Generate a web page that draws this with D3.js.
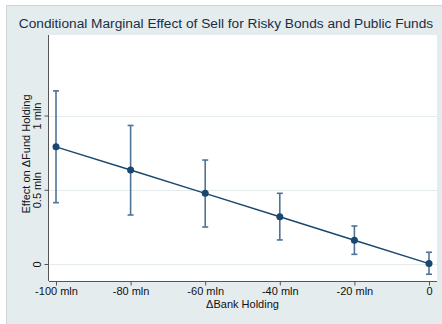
<!DOCTYPE html>
<html>
<head>
<meta charset="utf-8">
<script src="https://cdn.jsdelivr.net/npm/d3@7"></script>
<style>
  body { margin: 0; background: #fff; }
  text { font-family: "Liberation Sans", Arial, sans-serif; }
</style>
</head>
<body>
<div id="chart"></div>
<script>
// values (mln)
var bankHolding = [-100, -80, -60, -40, -20, 0];
var effect      = [0.789, 0.633, 0.476, 0.318, 0.160, 0.003];
var ciLower     = [0.413, 0.330, 0.249, 0.162, 0.065, -0.069];
var ciUpper     = [1.166, 0.933, 0.700, 0.476, 0.256, 0.079];
var xTicks      = [-100, -80, -60, -40, -20, 0];
var xTickLabels = ["-100 mln", "-80 mln", "-60 mln", "-40 mln", "-20 mln", "0"];
var yTicks      = [0, 0.5, 1];
var yTickLabels = ["0", "0.5 mln", "1 mln"];

var width  = 442,
    height = 324;

var plot = { left: 49, right: 437, top: 35, bottom: 281 };

var x = d3.scaleLinear().domain([-100, 0]).range([56, 429]);
var y = d3.scaleLinear().domain([0, 1]).range([264, 115.5]);

var navy = "#1a476f";
var bg   = "#e4ecee";

var svg = d3.select("#chart")
            .append("svg")
            .attr("width", width)
            .attr("height", height);

// outer graph region
svg.append("rect")
   .attr("x", 6.5).attr("y", 5.5)
   .attr("width", width).attr("height", height)
   .attr("fill", bg)
   .attr("stroke", "#cfd6d8");

// plot region
svg.append("rect")
   .attr("x", plot.left).attr("y", plot.top)
   .attr("width", plot.right - plot.left)
   .attr("height", plot.bottom - plot.top)
   .attr("fill", "#fff");

// gridlines
svg.append("g")
   .selectAll("line")
   .data(yTicks)
   .enter()
   .append("line")
   .attr("x1", plot.left).attr("x2", plot.right)
   .attr("y1", function(d) { return Math.round(y(d)) + 0.5; })
   .attr("y2", function(d) { return Math.round(y(d)) + 0.5; })
   .attr("stroke", bg)
   .attr("stroke-width", 1);

// y axis
var yAxis = d3.axisLeft(y)
              .tickValues(yTicks)
              .tickSize(4)
              .tickFormat(function(d, i) { return yTickLabels[i]; });

var gy = svg.append("g")
            .attr("transform", "translate(" + (plot.left - 0.5) + ",0)")
            .call(yAxis);
gy.select(".domain")
  .attr("d", "M0," + plot.top + "V" + plot.bottom)
  .attr("stroke", "#555");
gy.selectAll(".tick line").attr("stroke", "#555");
gy.selectAll(".tick text")
  .attr("transform", "rotate(-90)")
  .attr("x", 0)
  .attr("y", -8)
  .attr("dy", 0)
  .attr("text-anchor", "middle")
  .attr("font-size", 11)
  .attr("fill", "#111")
  .attr("font-family", "Liberation Sans, Arial, sans-serif");

// x axis
var xAxis = d3.axisBottom(x)
              .tickValues(xTicks)
              .tickSize(4)
              .tickFormat(function(d, i) { return xTickLabels[i]; });

var gx = svg.append("g")
            .attr("transform", "translate(0," + (plot.bottom + 0.5) + ")")
            .call(xAxis);
gx.select(".domain")
  .attr("d", "M" + plot.left + ",0H" + plot.right)
  .attr("stroke", "#555");
gx.selectAll(".tick line").attr("stroke", "#555");
gx.selectAll(".tick text")
  .attr("y", 6)
  .attr("font-size", 11)
  .attr("fill", "#111")
  .attr("font-family", "Liberation Sans, Arial, sans-serif");

// axis titles
svg.append("text")
   .attr("x", (x(-100) + x(0)) / 2)
   .attr("y", 308)
   .attr("text-anchor", "middle")
   .attr("font-size", 11)
   .attr("fill", "#111")
   .text("\u0394Bank Holding");

svg.append("text")
   .attr("transform", "translate(29.5,154) rotate(-90)")
   .attr("text-anchor", "middle")
   .attr("font-size", 11)
   .attr("fill", "#111")
   .text("Effect on \u0394Fund Holding");

// title
svg.append("text")
   .attr("x", 226)
   .attr("y", 28)
   .attr("text-anchor", "middle")
   .attr("font-size", 13.7)
   .attr("fill", "#1c2e45")
   .text("Conditional Marginal Effect of Sell for Risky Bonds and Public Funds");

// confidence intervals
var ci = svg.append("g")
            .attr("stroke", "#4f7397")
            .attr("stroke-width", 1.6);

ci.selectAll(".bar")
  .data(bankHolding)
  .enter()
  .append("line")
  .attr("x1", function(d) { return x(d); })
  .attr("x2", function(d) { return x(d); })
  .attr("y1", function(d, i) { return y(ciLower[i]); })
  .attr("y2", function(d, i) { return y(ciUpper[i]); });

ci.selectAll(".capTop")
  .data(bankHolding)
  .enter()
  .append("line")
  .attr("x1", function(d) { return x(d) - 3; })
  .attr("x2", function(d) { return x(d) + 3; })
  .attr("y1", function(d, i) { return y(ciUpper[i]); })
  .attr("y2", function(d, i) { return y(ciUpper[i]); });

ci.selectAll(".capBottom")
  .data(bankHolding)
  .enter()
  .append("line")
  .attr("x1", function(d) { return x(d) - 3; })
  .attr("x2", function(d) { return x(d) + 3; })
  .attr("y1", function(d, i) { return y(ciLower[i]); })
  .attr("y2", function(d, i) { return y(ciLower[i]); });

// line
var line = d3.line()
             .x(function(d, i) { return x(bankHolding[i]); })
             .y(function(d) { return y(d); });

svg.append("path")
   .datum(effect)
   .attr("d", line)
   .attr("fill", "none")
   .attr("stroke", navy)
   .attr("stroke-width", 1.4);

// points
svg.append("g")
   .selectAll("circle")
   .data(effect)
   .enter()
   .append("circle")
   .attr("cx", function(d, i) { return x(bankHolding[i]); })
   .attr("cy", function(d) { return y(d); })
   .attr("r", 3.5)
   .attr("fill", navy);
</script>
</body>
</html>
